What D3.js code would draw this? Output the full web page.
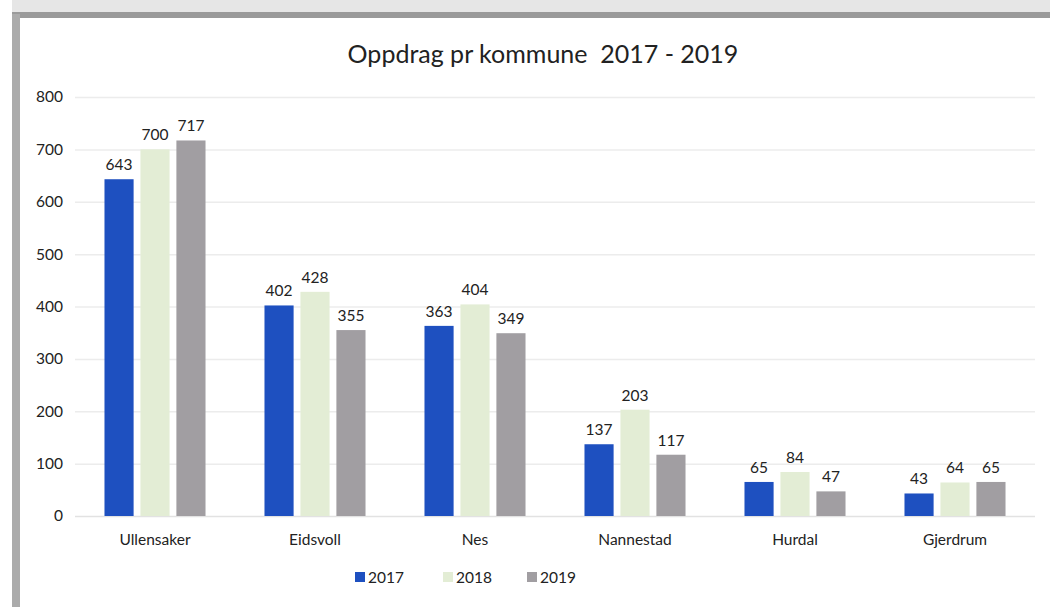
<!DOCTYPE html>
<html><head><meta charset="utf-8">
<script src="https://cdn.jsdelivr.net/npm/d3@7"></script>
<style>body{margin:0;background:#fff;} svg{display:block;} text{font-family:Lato,"Open Sans",sans-serif;fill:#222;}</style>
</head><body><svg id="c" width="1050" height="607"></svg>
<script>
const categories = ["Ullensaker","Eidsvoll","Nes","Nannestad","Hurdal","Gjerdrum"];
const series = ["2017","2018","2019"];
const v2017 = [643,402,363,137,65,43];
const v2018 = [700,428,404,203,84,64];
const v2019 = [717,355,349,117,47,65];
const yTicks = [0,100,200,300,400,500,600,700,800];
const colors = ["#1e50c0","#e3edd5","#a19ea2"];
const values = [v2017,v2018,v2019];

const svg = d3.select("#c");
svg.append("rect").attr("x",0).attr("y",0).attr("width",1050).attr("height",607).attr("fill","#fff");
svg.append("rect").attr("x",0).attr("y",0).attr("width",1050).attr("height",12).attr("fill","#e6e6e6");
svg.append("rect").attr("x",0).attr("y",12).attr("width",1050).attr("height",6).attr("fill","#9a9a9a");
svg.append("rect").attr("x",0).attr("y",0).attr("width",12).attr("height",607).attr("fill","#fff");
svg.append("rect").attr("x",12).attr("y",14).attr("width",8).attr("height",593).attr("fill","#ababab");
svg.append("rect").attr("x",20).attr("y",18).attr("width",1030).attr("height",589).attr("fill","#fff");

const m = {left:75,right:1035,top:97,bottom:516};
const x = d3.scaleBand().domain(categories).range([m.left,m.right]).paddingInner(0).paddingOuter(0);
const x1 = d3.scaleBand().domain(series).range([0,x.bandwidth()]).paddingInner(0.19).paddingOuter(0.82);
const y = d3.scaleLinear().domain([0,800]).range([m.bottom,m.top]);

svg.append("text").attr("x",543).attr("y",63).attr("text-anchor","middle").attr("font-size",25)
  .attr("xml:space","preserve").style("white-space","pre").text("Oppdrag pr kommune  2017 - 2019");

const ya = svg.append("g").attr("transform",`translate(${m.left},0)`)
  .call(d3.axisLeft(y).tickValues(yTicks).tickSize(-(m.right-m.left)).tickPadding(12));
ya.select(".domain").remove();
ya.selectAll(".tick line").attr("stroke","#ececec").attr("stroke-width",1.5);
ya.selectAll(".tick text").attr("font-size",15.5).attr("font-family","Lato,'Open Sans',sans-serif").attr("fill","#222");
ya.selectAll(".tick").filter(d=>d===0).select("line").attr("stroke","#e2e2e2");

const g = svg.append("g");
series.forEach((s,si)=>{
  categories.forEach((c,ci)=>{
    const val = values[si][ci];
    const bx = x(c)+x1(s);
    g.append("rect").attr("x",bx).attr("y",y(val)).attr("width",x1.bandwidth()).attr("height",y(0)-y(val)).attr("fill",colors[si]);
    g.append("text").attr("x",bx+x1.bandwidth()/2).attr("y",y(val)-9).attr("text-anchor","middle").attr("font-size",15.5).text(val);
  });
});

const xa = svg.append("g").attr("transform",`translate(0,${m.bottom})`).call(d3.axisBottom(x).tickSize(0).tickPadding(18));
xa.select(".domain").remove();
xa.selectAll(".tick text").attr("font-size",15.5).attr("font-family","Lato,'Open Sans',sans-serif").attr("fill","#222");

const leg = svg.append("g");
const lx = [355,443,527];
series.forEach((s,i)=>{
  leg.append("rect").attr("x",lx[i]).attr("y",572).attr("width",10).attr("height",10).attr("fill",colors[i]);
  leg.append("text").attr("x",lx[i]+13).attr("y",583).attr("font-size",15.5).text(s);
});
</script></body></html>
